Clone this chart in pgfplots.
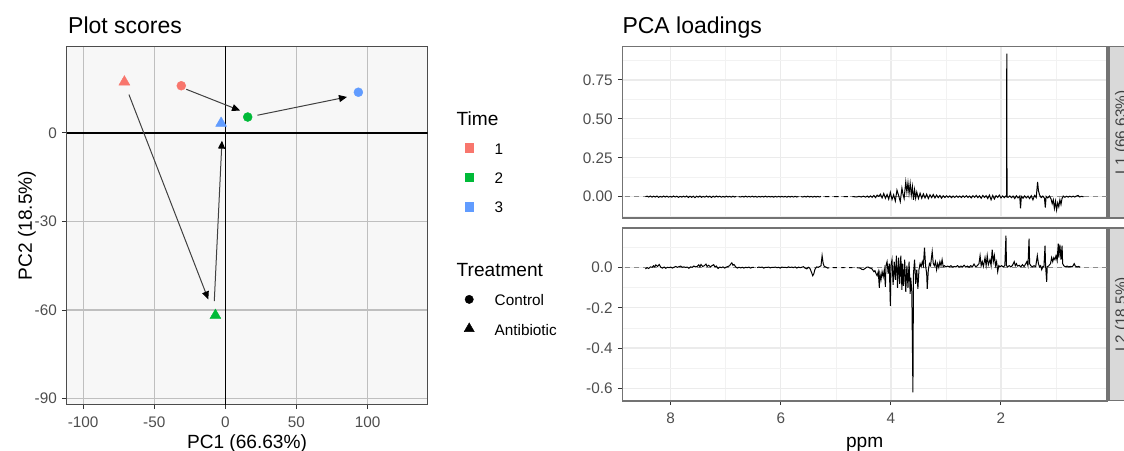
\documentclass[border=0pt]{standalone}
\usepackage{pgfplots}
\pgfplotsset{compat=1.18}
\usepackage{fontspec}
\setmainfont{Liberation Sans}
\usetikzlibrary{arrows.meta}
\definecolor{c1}{HTML}{F8766D}
\definecolor{c2}{HTML}{00BA38}
\definecolor{c3}{HTML}{619CFF}
\definecolor{ticklab}{HTML}{4D4D4D}
\newcommand{\fs}[1]{\fontsize{#1bp}{#1bp}\selectfont}
\pgfplotsset{
  myaxis/.style={scale only axis, tick align=outside,
    major tick length=4.5bp, minor tick length=0pt,
    tick style={color=black!80, line width=1bp},
    ticklabel style={font=\fs{15.3}, text=ticklab},
    xticklabel style={anchor=base, yshift=-18.5bp, inner sep=0pt},
    yticklabel style={anchor=east, xshift=-5bp, inner sep=0pt},
    xtick pos=left, ytick pos=left},
  myright/.style={myaxis, width=484.7bp, xmin=0.074, xmax=8.88, x dir=reverse,
    xtick={2,4,6,8}, minor xtick={1,3,5,7},
    grid=both, major grid style={color=black!8, line width=1.2bp},
    minor grid style={color=black!5, line width=0.7bp},
    axis line style={color=black!55, line width=1.6bp},
    unbounded coords=jump}
}
\begin{document}
\begin{tikzpicture}
\useasboundingbox (0bp,0bp) rectangle (1124bp,451bp);
% ---------------- scores ----------------
\begin{axis}[myaxis, at={(66.5bp,46.5bp)}, anchor=south west, width=361bp, height=358bp,
  xmin=-111.7, xmax=142.1, ymin=-92, ymax=29.3,
  xtick={-100,-50,0,50,100}, xticklabels={-100,-50,0,50,100},
  ytick={-90,-60,-30,0}, yticklabels={-90,-60,-30,0},
  grid=major, major grid style={color=black!25, line width=1.2bp},
  axis line style={color=black!70, line width=1.6bp},
  axis background/.style={fill=black!3},
  xlabel={PC1 (66.63\%)}, ylabel={PC2 (18.5\%)},
  xlabel style={at={(axis description cs:0.5,-0.1215)}, anchor=base, font=\fs{19.1}, inner sep=0pt},
  ylabel style={at={(axis description cs:-0.0961,0.5)}, anchor=base, font=\fs{19.1}, inner sep=0pt},
  legend image code/.code={\path[draw=none,fill=none] (0bp,-3bp) rectangle (38bp,11bp); \draw[#1] plot coordinates {(12.5bp,2.5bp)};},
  legend style={at={(axis description cs:1.0809,0.8112)}, anchor=north west, draw=none, fill=none,
    inner sep=0pt, outer sep=0pt, row sep=11.3bp, column sep=0pt, font=\fs{15.3},
    nodes={inner sep=0pt, text height=11bp, text depth=3bp}, cells={anchor=base west}},
  legend cell align=left]
\addplot[black, line width=1.3bp, forget plot] coordinates {(-111.7,0) (142.1,0)};
\addplot[black, line width=1.3bp, forget plot] coordinates {(0,-92) (0,29.3)};
\addplot[black!75, line width=1bp, -{Triangle[length=8bp,width=7bp,color=black,fill=black]}, forget plot] coordinates {(-27.5,14.8) (10.3,7.6)};
\addplot[black!75, line width=1bp, -{Triangle[length=8bp,width=7bp,color=black,fill=black]}, forget plot] coordinates {(22.5,6.0) (85.5,12.2)};
\addplot[black!75, line width=1bp, -{Triangle[length=8bp,width=7bp,color=black,fill=black]}, forget plot] coordinates {(-67.8,13.0) (-12,-56.4)};
\addplot[black!75, line width=1bp, -{Triangle[length=8bp,width=7bp,color=black,fill=black]}, forget plot] coordinates {(-7.8,-57) (-2.4,-2.6)};
\addplot[only marks, mark=*, mark size=4.5bp, color=c1, forget plot] coordinates {(-31,16)};
\addplot[only marks, mark=*, mark size=4.5bp, color=c2, forget plot] coordinates {(15.7,5.4)};
\addplot[only marks, mark=*, mark size=4.5bp, color=c3, forget plot] coordinates {(93.5,13.8)};
\addplot[only marks, mark=triangle*, mark size=6.3bp, color=c1, forget plot] coordinates {(-71,17.3)};
\addplot[only marks, mark=triangle*, mark size=6.3bp, color=c2, forget plot] coordinates {(-7,-61.8)};
\addplot[only marks, mark=triangle*, mark size=6.3bp, color=c3, forget plot] coordinates {(-3,3.3)};
\addlegendimage{empty legend}\addlegendentry{\hspace*{-38bp}\fs{19.1}Time}
\addlegendimage{only marks, mark=square*, mark size=4.3bp, color=c1}\addlegendentry{1}
\addlegendimage{only marks, mark=square*, mark size=4.3bp, color=c2}\addlegendentry{2}
\addlegendimage{only marks, mark=square*, mark size=4.3bp, color=c3}\addlegendentry{3}
\addlegendimage{legend image code/.code={\path[draw=none,fill=none] (0bp,-3bp) rectangle (1bp,20bp);}}\addlegendentry{}
\addlegendimage{empty legend}\addlegendentry{\hspace*{-38bp}\fs{19.1}Treatment}
\addlegendimage{only marks, mark=*, mark size=4.2bp, color=black}\addlegendentry{Control}
\addlegendimage{only marks, mark=triangle*, mark size=5.8bp, color=black}\addlegendentry{Antibiotic}
\end{axis}
\node[anchor=base west, inner sep=0pt, font=\fs{23}] at (68bp,417.7bp) {Plot scores};
\node[anchor=base west, inner sep=0pt, font=\fs{23}] at (622.3bp,417.7bp) {PCA loadings};
% ---------------- L1 ----------------
\begin{axis}[myright, at={(622.3bp,233bp)}, anchor=south west, height=171.3bp,
  ymin=-0.137, ymax=0.964,
  ytick={0,0.25,0.5,0.75}, yticklabels={0.00,0.25,0.50,0.75},
  minor ytick={-0.125,0.125,0.375,0.625,0.875},
  xticklabels={}, xtick style={draw=none}]
\addplot[black!45, dash pattern=on 5bp off 4bp, line width=0.8bp] coordinates {(0.074,0) (8.88,0)};
\addplot[black, line width=1bp] table {
x y
8.46 0
8.43 0.003
8.40 -0.002
8.37 0.004
8.34 -0.003
8.31 0.003
8.28 -0.002
8.25 0.004
8.22 -0.004
8.19 0.002
8.16 -0.003
8.13 0.004
8.10 -0.002
8.07 0.003
8.04 -0.003
8.01 0.002
7.98 -0.003
7.95 0.004
7.92 -0.002
7.89 0.003
7.86 -0.004
7.83 0.002
7.80 -0.003
7.77 0.003
7.74 -0.002
7.71 0.004
7.68 -0.005
7.65 0.003
7.62 -0.004
7.59 0.003
7.56 -0.006
7.53 0.003
7.50 -0.003
7.47 0.004
7.44 -0.004
7.41 0.002
7.38 -0.003
7.35 0.004
7.32 -0.003
7.29 0.003
7.26 -0.005
7.23 0.003
7.20 -0.003
7.17 0.004
7.14 -0.002
7.11 0.003
7.08 -0.003
7.05 0.002
7.02 -0.003
6.99 0.003
6.96 -0.002
6.93 0.002
6.90 -0.003
6.87 0.003
6.84 -0.002
6.81 0.002
6.79 nan
6.77 0.001
6.73 -0.002
6.70 0.002
6.67 -0.002
6.64 0.003
6.61 -0.002
6.58 0.002
6.55 -0.002
6.52 0.003
6.49 -0.002
6.46 0.002
6.43 -0.003
6.40 0.002
6.37 -0.002
6.34 0.002
6.31 -0.002
6.28 0.003
6.25 -0.002
6.22 0.002
6.19 -0.002
6.16 0.002
6.13 -0.003
6.10 0.002
6.07 -0.002
6.04 0.002
6.01 -0.002
5.98 0.002
5.95 -0.002
5.92 0.002
5.89 -0.003
5.86 0.002
5.83 -0.002
5.80 0.002
5.77 -0.002
5.74 0.002
5.71 -0.002
5.68 0.001
5.66 nan
5.63 0.001
5.60 -0.002
5.57 0.002
5.54 -0.002
5.51 0.003
5.48 -0.002
5.45 0.002
5.42 -0.003
5.39 0.002
5.36 -0.002
5.33 0.002
5.30 -0.002
5.27 0.002
5.24 nan
5.20 0
5.12 0
5.10 nan
5.03 0
4.95 0
4.93 nan
4.86 0
4.78 0
4.76 nan
4.70 0.001
4.62 -0.002
4.58 0.002
4.54 -0.002
4.50 0.003
4.46 -0.003
4.43 0.004
4.40 -0.004
4.37 0.005
4.34 -0.004
4.31 0.008
4.28 -0.006
4.25 0.010
4.22 0.002
4.19 0.016
4.16 -0.008
4.13 0.020
4.10 -0.010
4.07 0.014
4.04 -0.016
4.01 0.028
3.98 -0.018
3.95 0.012
3.92 -0.028
3.89 0.042
3.86 0.008
3.83 -0.032
3.80 0.055
3.78 0.015
3.76 -0.012
3.73 0.095
3.71 0.030
3.69 0.090
3.67 0.020
3.65 0.085
3.63 0.010
3.61 0.065
3.59 -0.020
3.57 0.045
3.55 -0.010
3.53 0.030
3.50 -0.012
3.47 0.022
3.44 -0.010
3.41 0.018
3.38 -0.008
3.35 0.016
3.32 -0.012
3.29 0.012
3.26 -0.006
3.23 0.014
3.20 -0.008
3.17 0.010
3.14 -0.006
3.11 0.008
3.08 -0.010
3.05 0.006
3.02 -0.005
2.99 0.006
2.96 -0.004
2.93 0.005
2.90 -0.006
2.87 0.004
2.84 -0.005
2.81 0.005
2.78 -0.004
2.75 0.004
2.72 -0.006
2.69 0.005
2.66 -0.004
2.63 0.006
2.60 -0.005
2.57 0.004
2.54 -0.008
2.51 0.006
2.48 -0.004
2.45 0.008
2.42 -0.006
2.39 0.005
2.36 -0.010
2.33 0.008
2.30 -0.005
2.27 0.006
2.24 -0.012
2.21 0.010
2.18 -0.020
2.15 0.008
2.12 -0.015
2.09 0.006
2.06 -0.005
2.03 0.010
2.00 -0.008
1.97 0.005
1.94 -0.006
1.915 0.004
1.90 0
1.895 0.920
1.89 0
1.87 -0.004
1.84 0.005
1.81 -0.006
1.78 0.004
1.75 -0.012
1.72 0.006
1.69 -0.008
1.66 0.004
1.645 -0.075
1.63 0.002
1.60 -0.010
1.57 0.005
1.54 -0.008
1.51 0.004
1.48 -0.012
1.45 0.006
1.42 -0.020
1.39 0.008
1.36 -0.006
1.335 0.095
1.32 0.040
1.30 0.012
1.27 -0.006
1.24 0.004
1.21 -0.010
1.195 -0.070
1.18 0.002
1.15 -0.008
1.12 0.004
1.09 -0.015
1.07 -0.045
1.05 -0.020
1.03 -0.075
1.01 -0.030
0.99 -0.085
0.97 -0.040
0.95 -0.065
0.93 -0.020
0.91 -0.050
0.89 -0.010
0.87 0.004
0.84 -0.004
0.81 0.003
0.78 -0.003
0.75 0.003
0.72 -0.002
0.69 0.003
0.66 -0.002
0.63 0.004
0.60 0.008
0.57 -0.002
0.54 0.002
0.50 0
};
\end{axis}
% ---------------- L2 ----------------
\begin{axis}[myright, at={(622.3bp,50.3bp)}, anchor=south west, height=172.4bp,
  ymin=-0.662, ymax=0.196,
  ytick={-0.6,-0.4,-0.2,0}, yticklabels={-0.6,-0.4,-0.2,0.0},
  minor ytick={-0.5,-0.3,-0.1,0.1},
  xticklabels={2,4,6,8},
  xlabel={ppm},
  xlabel style={at={(axis description cs:0.5,-0.274)}, anchor=base, font=\fs{19.1}, inner sep=0pt}]
\addplot[black!45, dash pattern=on 5bp off 4bp, line width=0.8bp] coordinates {(0.074,0) (8.88,0)};
\addplot[black, line width=1bp] table {
x y
8.46 -0.006
8.43 0.000
8.40 -0.004
8.37 0.004
8.34 0.002
8.31 0.010
8.29 0.004
8.27 0.014
8.24 0.006
8.21 0.016
8.18 0.002
8.15 -0.002
8.12 0.003
8.09 -0.003
8.06 0.002
8.03 0.000
8.00 0.003
7.97 -0.002
7.94 0.002
7.91 0.006
7.88 0.002
7.85 0.005
7.82 0.008
7.79 0.002
7.76 0.004
7.73 0.001
7.70 0.003
7.67 -0.003
7.64 0.004
7.61 0.002
7.58 0.008
7.55 0.004
7.52 0.006
7.49 0.014
7.47 0.004
7.45 0.016
7.42 0.006
7.39 0.010
7.36 0.018
7.34 0.006
7.31 0.012
7.28 0.004
7.25 0.010
7.22 0.015
7.20 0.004
7.17 0.008
7.14 -0.004
7.11 0.003
7.08 0.000
7.05 0.004
7.02 -0.002
6.99 0.003
6.96 0.006
6.93 0.010
6.91 0.018
6.89 0.024
6.87 0.012
6.85 0.016
6.82 0.004
6.79 -0.002
6.76 0.002
6.73 -0.001
6.70 0.002
6.67 -0.002
6.64 0.002
6.61 0.000
6.58 0.003
6.55 -0.002
6.52 0.002
6.49 0.001
6.46 nan
6.43 0.000
6.40 0.003
6.37 0.001
6.34 0.003
6.31 -0.002
6.28 0.002
6.25 0.001
6.22 0.003
6.19 -0.001
6.16 0.002
6.13 0.001
6.10 0.003
6.07 0.000
6.04 0.002
6.01 -0.002
5.98 0.003
5.95 0.001
5.92 0.002
5.89 0.000
5.86 0.004
5.83 0.001
5.80 0.003
5.77 0.000
5.74 0.004
5.71 -0.002
5.68 0.003
5.65 0.000
5.62 0.002
5.59 0.005
5.56 -0.002
5.53 -0.006
5.50 0.002
5.47 -0.004
5.44 -0.025
5.42 -0.040
5.40 -0.030
5.38 -0.008
5.35 0.004
5.32 0.002
5.29 0.006
5.27 0.010
5.25 0.060
5.23 0.020
5.21 0.006
5.18 0.003
5.15 -0.002
5.12 0.000
5.10 nan
5.05 0
4.98 0
4.96 nan
4.90 0
4.84 0
4.82 nan
4.76 0
4.70 0
4.68 nan
4.62 0
4.56 -0.002
4.53 -0.008
4.50 -0.010
4.47 -0.004
4.44 0.002
4.41 0.003
4.38 -0.002
4.35 -0.004
4.33 -0.012
4.31 -0.020
4.29 -0.015
4.27 -0.030
4.25 -0.040
4.23 -0.020
4.21 -0.100
4.20 -0.030
4.18 -0.060
4.16 -0.020
4.14 -0.045
4.12 -0.010
4.10 -0.095
4.09 0.010
4.07 0.030
4.05 -0.030
4.03 0.020
4.01 -0.190
4.00 0.010
3.98 0.040
3.96 -0.085
3.94 0.030
3.92 -0.060
3.90 0.060
3.88 -0.100
3.86 0.050
3.84 -0.080
3.82 0.060
3.80 -0.110
3.79 0.020
3.77 -0.090
3.75 0.040
3.73 -0.120
3.71 0.010
3.69 -0.100
3.67 0.030
3.65 -0.130
3.64 -0.050
3.62 -0.120
3.60 -0.620
3.59 -0.030
3.57 0.040
3.55 -0.080
3.53 -0.010
3.51 -0.105
3.49 -0.010
3.47 0.020
3.45 0.005
3.43 0.030
3.41 0.010
3.39 0.100
3.37 0.010
3.35 -0.030
3.34 -0.105
3.32 -0.010
3.30 0.020
3.28 0.010
3.25 0.080
3.23 0.020
3.21 0.010
3.19 0.030
3.17 -0.010
3.15 0.020
3.13 0.000
3.11 0.030
3.09 0.010
3.07 0.040
3.05 0.005
3.03 0.010
3.00 0.004
2.97 0.008
2.94 0.004
2.91 0.010
2.88 0.003
2.85 0.006
2.82 0.004
2.79 0.010
2.76 0.003
2.73 0.008
2.70 0.004
2.67 0.012
2.64 0.003
2.61 0.008
2.58 0.002
2.55 0.010
2.52 0.004
2.49 0.018
2.46 0.004
2.43 0.010
2.40 0.020
2.38 0.060
2.36 0.010
2.34 0.030
2.32 0.006
2.29 0.050
2.27 0.010
2.25 0.060
2.23 0.015
2.20 0.040
2.18 0.010
2.16 0.090
2.14 0.030
2.12 0.060
2.10 0.010
2.08 0.030
2.06 -0.020
2.04 0.010
2.02 0.004
1.99 0.010
1.96 0.004
1.93 0.010
1.91 0.160
1.90 0.010
1.88 0.004
1.85 0.010
1.82 0.004
1.79 0.012
1.76 0.030
1.74 0.010
1.72 0.020
1.70 0.008
1.67 0.012
1.64 0.004
1.61 0.015
1.58 0.006
1.55 0.020
1.53 0.030
1.51 0.010
1.49 0.145
1.48 0.020
1.46 0.010
1.43 0.004
1.40 0.010
1.37 0.004
1.34 0.060
1.32 0.020
1.30 0.004
1.28 0.010
1.26 -0.010
1.24 0.006
1.22 0.004
1.20 0.110
1.19 0.010
1.17 -0.070
1.16 0.004
1.13 0.010
1.10 0.020
1.08 0.050
1.06 0.030
1.04 0.050
1.02 0.040
1.00 0.060
0.98 0.035
0.96 0.120
0.95 0.050
0.93 0.115
0.91 0.040
0.89 0.110
0.88 0.020
0.86 0.010
0.83 0.004
0.80 0.008
0.77 0.004
0.74 0.006
0.71 0.004
0.69 0.010
0.67 0.020
0.65 0.008
0.62 0.004
0.59 0.006
0.56 0.002
};
\end{axis}
% ---------------- strips ----------------
\filldraw[fill=black!15, draw=black!55, line width=1.6bp] (1109bp,233bp) rectangle (1145bp,404.3bp);
\filldraw[fill=black!15, draw=black!55, line width=1.6bp] (1109bp,50.3bp) rectangle (1145bp,222.7bp);
\node[rotate=90, anchor=base, inner sep=0pt, font=\fs{15.3}, text=black!75] at (1126bp,318.6bp) {L1 (66.63\%)};
\node[rotate=90, anchor=base, inner sep=0pt, font=\fs{15.3}, text=black!75] at (1126bp,136.5bp) {L2 (18.5\%)};
\end{tikzpicture}
\end{document}
